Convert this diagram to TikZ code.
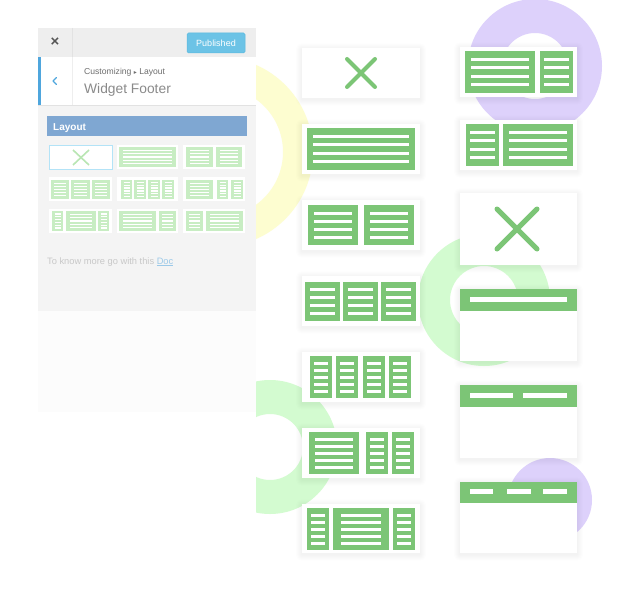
\documentclass[tikz,border=0pt]{standalone}
\usepackage{fontspec}
\setmainfont{Liberation Sans}
\newfontfamily\dejavu{DejaVu Sans}
\definecolor{cgreen}{HTML}{7CC576}
\definecolor{cfade}{HTML}{C8EDC3}
\definecolor{cxfade}{HTML}{B9E6B3}
\definecolor{cyellow}{HTML}{FDFDD0}
\definecolor{cmint}{HTML}{D3FBD0}
\definecolor{clav}{HTML}{DDD1FB}
\definecolor{panelbg}{HTML}{F4F4F4}
\definecolor{panelbot}{HTML}{FCFCFC}
\definecolor{hdrbg}{HTML}{EEEEEE}
\definecolor{divc}{HTML}{E2E2E2}
\definecolor{btnblue}{HTML}{6CC3E6}
\definecolor{btnedge}{HTML}{5BB9DE}
\definecolor{barblue}{HTML}{7FA7D2}
\definecolor{edgeblue}{HTML}{4FA6DD}
\definecolor{celledge}{HTML}{B3E3F7}
\definecolor{darktxt}{HTML}{555555}
\definecolor{midtxt}{HTML}{8A8A8A}
\definecolor{lighttxt}{HTML}{C8C8C8}
\definecolor{doclink}{HTML}{9CC9E8}

\newcommand\gblk[6]{%
  \fill[gfill] (#1,#2) rectangle (#3,#4);
  \pgfmathsetmacro\gstp{(#4-#2)/(#5+1)}
  \foreach \gi in {1,...,#5}{
    \draw[wln] ({#1+#6},{#2+\gi*\gstp}) -- ({#3-#6},{#2+\gi*\gstp});
  }
}
\newcommand\cardbg[4]{%
  \foreach \dd in {1,...,6}{
    \fill[black,opacity=0.007,rounded corners=\dd pt] ({#1-\dd},{#2-\dd+1.5}) rectangle ({#3+\dd},{#4+\dd+1.5});
  }
  \fill[white] (#1,#2) rectangle (#3,#4);
}

\begin{document}
\begin{tikzpicture}[x=1pt,y=-1pt,
  gfill/.style={fill=cgreen},
  wln/.style={draw=white,line width=3pt},
  xmark/.style={draw=cgreen,line width=4pt,line cap=round},
  txt/.style={inner sep=0pt,anchor=base west},
  hdrbar/.style={fill=cgreen},
  wbar/.style={fill=white}]
\useasboundingbox (0,0) rectangle (628,599);
\fill[white] (0,0) rectangle (628,599);

% ---- decorative rings
\begin{scope}
  \clip (256,0) rectangle (628,599);
  \fill[cyellow,even odd rule] (218,152) circle (95) (218,152) circle (65);
  \fill[cmint,even odd rule] (270,447) circle (67) (270,447) circle (33);
\end{scope}
\fill[cmint,even odd rule] (484,300) circle (66) (484,300) circle (34);
\fill[clav,even odd rule] (535,66) circle (67) (535,66) circle (33);
\fill[clav] (550,500) circle (42);

% ---- left panel
\fill[panelbot] (38,311) rectangle (256,412);
\fill[panelbg] (38,28) rectangle (256,311);
\fill[hdrbg] (38,28) rectangle (256,57);
\draw[divc,line width=0.8pt] (72,28) -- (72,57);
\fill[white] (38,57) rectangle (256,105);
\draw[hdrbg,line width=0.8pt] (72,57) -- (72,105);
\draw[divc,line width=0.6pt] (38,105) -- (256,105);
\fill[edgeblue] (38,57) rectangle (41,105);
\node[inner sep=0pt,text=darktxt,font=\bfseries\fontsize{15}{16}\selectfont] (closex) at (55,42) {×};
\draw[edgeblue,line width=1.4pt,line cap=round,line join=round] (56.5,77.5) -- (53,81) -- (56.5,84.5);
\draw[btnedge,fill=btnblue,rounded corners=1.5pt,line width=0.5pt] (187,33) rectangle (245,53);
\node[inner sep=0pt,text=white,font=\fontsize{9}{10}\selectfont] (pub) at (216,43.3) {Published};
\node[txt,text=darktxt!85,font=\fontsize{8.6}{10}\selectfont] (cust) at (84,75) {Customizing {\dejavu\fontsize{6}{7}\selectfont ▸} Layout};
\node[txt,text=midtxt,font=\fontsize{13.8}{16}\selectfont] (wf) at (84,94) {Widget Footer};
\fill[barblue] (47,116) rectangle (247,136);
\node[txt,text=white,font=\bfseries\fontsize{10}{12}\selectfont] (lay) at (53,130) {Layout};

% thumbnails (faded)
\begin{scope}[gfill/.style={fill=cfade}, wln/.style={draw=white,line width=1.3pt}]
  \foreach \ya/\yb in {145/169,177/201,209/233}{
    \fill[white] (49,\ya) rectangle (112,\yb);
    \fill[white] (117,\ya) rectangle (178,\yb);
    \fill[white] (183,\ya) rectangle (245,\yb);
  }
  \draw[celledge,line width=0.9pt] (49,145) rectangle (112,169);
  \draw[cxfade,line width=1.6pt] (73,150) -- (89,165) (89,150) -- (73,165);
  % row 1
  \gblk{119}{147}{176}{167}{5}{4}
  \gblk{186}{147}{213}{167}{5}{4}
  \gblk{216}{147}{242}{167}{5}{4}
  % row 2
  \gblk{51}{180}{69}{199}{5}{3}
  \gblk{71}{180}{90}{199}{5}{3}
  \gblk{92}{180}{110}{199}{5}{3}
  \gblk{121}{180}{132}{199}{6}{2.5}
  \gblk{134}{180}{146}{199}{6}{2.5}
  \gblk{148}{180}{160}{199}{6}{2.5}
  \gblk{162}{180}{174}{199}{6}{2.5}
  \gblk{186}{180}{213}{199}{5}{4}
  \gblk{217}{180}{228}{199}{6}{2.5}
  \gblk{231}{180}{243}{199}{6}{2.5}
  % row 3
  \gblk{52}{211}{63}{231}{6}{2.5}
  \gblk{66}{211}{96}{231}{5}{4}
  \gblk{98}{211}{109}{231}{6}{2.5}
  \gblk{119}{211}{156}{231}{5}{4}
  \gblk{159}{211}{176}{231}{5}{3}
  \gblk{186}{211}{203}{231}{5}{3}
  \gblk{206}{211}{243}{231}{5}{4}
\end{scope}
\node[txt,text=lighttxt,font=\fontsize{9.3}{11}\selectfont] (more) at (47,264) {To know more go with this \textcolor{doclink}{\underline{Doc}}};

% ---- column 1 cards
\cardbg{302}{48}{420}{98}
\draw[xmark] (347,59) -- (375,87) (375,59) -- (347,87);

\cardbg{302}{124}{420}{174}
\gblk{307}{128}{415}{170}{4}{6}

\cardbg{302}{200}{420}{250}
\gblk{308}{205}{358}{245}{4}{6}
\gblk{364}{205}{414}{245}{4}{6}

\cardbg{302}{276}{420}{326}
\gblk{305}{282}{340}{321}{4}{5}
\gblk{343}{282}{378}{321}{4}{5}
\gblk{381}{282}{416}{321}{4}{5}

\cardbg{302}{352}{420}{402}
\gblk{310}{356}{332}{398}{5}{4}
\gblk{336}{356}{358}{398}{5}{4}
\gblk{363}{356}{385}{398}{5}{4}
\gblk{389}{356}{411}{398}{5}{4}

\cardbg{302}{428}{420}{478}
\gblk{309}{432}{359}{474}{5}{6}
\gblk{366}{432}{388}{474}{5}{4}
\gblk{392}{432}{414}{474}{5}{4}

\cardbg{302}{504}{420}{553}
\gblk{307}{508}{329}{550}{5}{4}
\gblk{333}{508}{389}{550}{5}{8}
\gblk{393}{508}{415}{550}{5}{4}

% ---- column 2 cards
\cardbg{460}{47}{577}{97}
\gblk{465}{51}{535}{93}{4}{6}
\gblk{540}{51}{573}{93}{4}{4}

\cardbg{460}{120}{577}{170}
\gblk{466}{124}{499}{166}{4}{4}
\gblk{503}{124}{573}{166}{4}{6}

\cardbg{460}{193}{577}{265}
\draw[xmark,line width=5pt] (497,209) -- (537,249) (537,209) -- (497,249);

\cardbg{460}{289}{577}{361}
\fill[hdrbar] (460,289) rectangle (577,311);
\fill[wbar] (470,297) rectangle (567,302);

\cardbg{460}{385}{577}{458}
\fill[hdrbar] (460,385) rectangle (577,407);
\fill[wbar] (470,393) rectangle (513,398);
\fill[wbar] (523,393) rectangle (567,398);

\cardbg{460}{482}{577}{553}
\fill[hdrbar] (460,482) rectangle (577,503);
\fill[wbar] (470,489) rectangle (493,494);
\fill[wbar] (507,489) rectangle (531,494);
\fill[wbar] (543,489) rectangle (567,494);
\end{tikzpicture}
\end{document}
